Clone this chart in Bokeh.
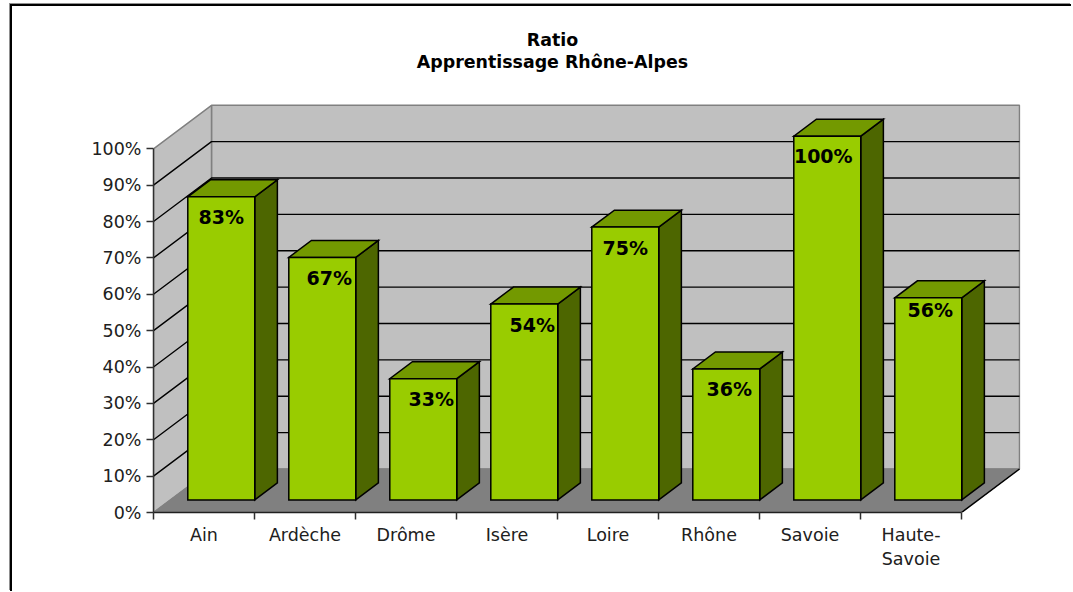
from bokeh.plotting import figure
from bokeh.models import FixedTicker, Range1d, ColumnDataSource
from bokeh.core.properties import value
from bokeh.embed import file_html
from bokeh.resources import INLINE

categories = ["Ain", "Ardèche", "Drôme", "Isère", "Loire", "Rhône", "Savoie", "Haute-\nSavoie"]
ratios = [83.33, 66.67, 33.33, 53.85, 75.0, 36.0, 100.0, 55.56]
bar_labels = ["83%", "67%", "33%", "54%", "75%", "36%", "100%", "56%"]
y_ticks = [0, 10, 20, 30, 40, 50, 60, 70, 80, 90, 100]
title_lines = ["Ratio", "Apprentissage Rhône-Alpes"]

# layout (pixels of the photographed page)
FONT = "DejaVu Sans"
PX_PER_CAT = 101.0
PX_PER_PCT = 3.637
FRAME_W, FRAME_H = 867, 506
# oblique depth of the box: fraction of a category / of a percent per unit depth
DEPTH_X = 58 / PX_PER_CAT
DEPTH_Y = 43.5 / PX_PER_PCT
BAR_FRONT, BAR_BACK = 0.29, 0.68      # depth of bar faces
BAR_GAP = 0.173
BAR_W = 0.663
label_nudge_x = [0, 7, 8, 8, 0, 3, -4, 2]
label_nudge_y = [20.5, 20.5, 20.5, 20.5, 20.5, 20.5, 19.5, 12.5]
TITLE_X = 3.95             # in categories from the axis origin
TITLE_Y = [129.9, 123.9]   # above the plot box, on the percent scale


def proj(x, v, d):
    return x + d * DEPTH_X, v + d * DEPTH_Y


def face(corners):
    pts = [proj(*c) for c in corners]
    return [p[0] for p in pts], [p[1] for p in pts]


n = len(categories)
p = figure(
    width=1061, height=587,
    x_range=Range1d(0, FRAME_W / PX_PER_CAT),
    y_range=Range1d(0, FRAME_H / PX_PER_PCT),
    toolbar_location=None, output_backend="svg",
    min_border_left=141, min_border_right=53,
    min_border_top=0, min_border_bottom=81,
    outline_line_color=None, background_fill_color="white", border_fill_color="white",
)
p.margin = (4, 0, 0, 10)
p.styles = {"border-top": "2px solid black", "border-left": "2px solid black",
            "box-shadow": "-1px -1px 0 #909090"}
p.grid.visible = False

p.text([TITLE_X] * 2, TITLE_Y, text=title_lines, text_align="center", text_baseline="middle",
       text_font=value(FONT), text_font_size="17.4px", text_font_style="bold", text_color="black")

# walls and floor
wall_color, floor_color, edge = "#c0c0c0", "#808080", "#808080"
wx, wy = face([(0, 0, 1), (n, 0, 1), (n, 100, 1), (0, 100, 1)])
p.patch(wx, wy, fill_color=wall_color, line_color=edge, line_width=1.5)
sx, sy = face([(0, 0, 0), (0, 0, 1), (0, 100, 1), (0, 100, 0)])
p.patch(sx, sy, fill_color=wall_color, line_color=edge, line_width=1.5)
fx, fy = face([(0, 0, 0), (n, 0, 0), (n, 0, 1), (0, 0, 1)])
p.patch(fx, fy, fill_color=floor_color, line_color=floor_color, line_width=1)
rx, ry = face([(n, 0, 0), (n, 0, 1)])
p.line(rx, ry, line_color="black", line_width=1.5)

# gridlines on walls
for t in y_ticks[1:-1]:
    gx, gy = face([(0, t, 0), (0, t, 1), (n, t, 1)])
    p.line(gx, gy, line_color="black", line_width=1.4)

# bars
for i, v in enumerate(ratios):
    x0, x1 = i + BAR_GAP, i + BAR_GAP + BAR_W
    a, b = BAR_FRONT, BAR_BACK
    style = dict(line_color="black", line_width=1.5, line_join="miter")
    xs, ys = face([(x1, 0, a), (x1, 0, b), (x1, v, b), (x1, v, a)])
    p.patch(xs, ys, fill_color="#4d6600", **style)
    xs, ys = face([(x0, v, a), (x1, v, a), (x1, v, b), (x0, v, b)])
    p.patch(xs, ys, fill_color="#739900", **style)
    xs, ys = face([(x0, 0, a), (x1, 0, a), (x1, v, a), (x0, v, a)])
    p.patch(xs, ys, fill_color="#99cc00", **style)

# data labels
lx, ly = [], []
for i, v in enumerate(ratios):
    a, b = proj(i + BAR_GAP + BAR_W / 2, v, BAR_FRONT)
    lx.append(a)
    ly.append(b)
src = ColumnDataSource(dict(x=lx, y=ly, t=bar_labels, dx=label_nudge_x, dy=label_nudge_y))
p.text("x", "y", text="t", source=src, x_offset="dx", y_offset="dy", text_align="center",
       text_baseline="middle", text_font=value(FONT), text_font_style="bold",
       text_font_size="19px", text_color="black")

# axes
ya = p.yaxis[0]
ya.ticker = FixedTicker(ticks=y_ticks)
ya.major_label_overrides = {t: f"{t}%" for t in y_ticks}
ya.bounds = (0, 100)
ya.major_tick_in = 0
ya.major_tick_out = 7
ya.minor_tick_line_color = None
ya.axis_line_color = "#303030"
ya.axis_line_width = 1.5
ya.major_tick_line_color = "#303030"
ya.major_tick_line_width = 1.5
ya.major_label_standoff = 5
ya.major_label_text_font = FONT
ya.major_label_text_font_size = "17.5px"
ya.major_label_text_color = "#202020"

xa = p.xaxis[0]
centers = [i + 0.5 for i in range(n)]
xa.ticker = FixedTicker(ticks=centers, minor_ticks=list(range(n + 1)))
xa.major_label_overrides = dict(zip(centers, categories))
xa.bounds = (0, n)
xa.major_tick_line_color = None
xa.major_tick_in = 0
xa.major_tick_out = 0
xa.minor_tick_in = 0
xa.minor_tick_out = 7
xa.minor_tick_line_color = "#303030"
xa.minor_tick_line_width = 1.5
xa.axis_line_color = "#202020"
xa.axis_line_width = 1.5
xa.major_label_standoff = 5
xa.major_label_text_font = FONT
xa.major_label_text_font_size = "17.5px"
xa.major_label_text_color = "#202020"
xa.major_label_orientation = "horizontal"

open("out.html", "w").write(file_html(p, INLINE))
